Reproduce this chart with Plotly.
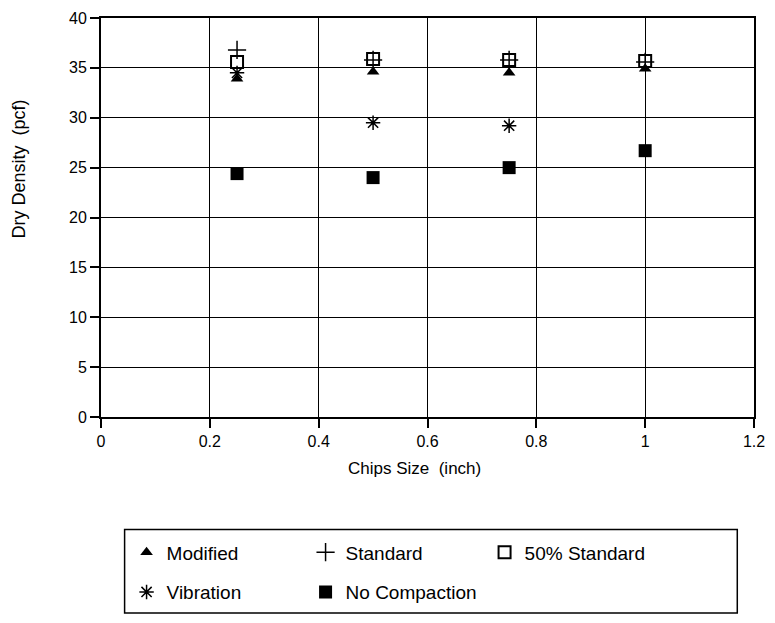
import plotly.graph_objects as go

chip_size = [0.25, 0.5, 0.75, 1.0]
modified = [33.9, 34.6, 34.5, 34.9]
standard = [36.8, 35.8, 35.8, 35.6]
std50 = [35.6, 35.9, 35.8, 35.7]
vib_x = [0.25, 0.5, 0.75]
vibration = [34.5, 29.5, 29.2]
no_compaction = [24.4, 24.0, 25.0, 26.7]

x_ticks = [0, 0.2, 0.4, 0.6, 0.8, 1.0, 1.2]
x_tick_labels = ["0", "0.2", "0.4", "0.6", "0.8", "1", "1.2"]
y_ticks = [0, 5, 10, 15, 20, 25, 30, 35, 40]

FONT = "Liberation Sans, Arial, Helvetica, sans-serif"

fig = go.Figure()
fig.add_trace(go.Scatter(x=chip_size, y=modified, mode="markers", name="Modified",
                         marker=dict(symbol="triangle-up", size=11, color="black"), legend="legend"))
fig.add_trace(go.Scatter(x=chip_size, y=standard, mode="markers", name="Standard",
                         marker=dict(symbol="cross-thin-open", size=13, color="black",
                                     line=dict(width=1.5, color="black")), legend="legend"))
fig.add_trace(go.Scatter(x=chip_size, y=std50, mode="markers", name="50% Standard",
                         marker=dict(symbol="square-open", size=12, color="black",
                                     line=dict(width=2, color="black")), legend="legend"))
fig.add_trace(go.Scatter(x=vib_x, y=vibration, mode="markers", name="Vibration",
                         marker=dict(symbol="asterisk-open", size=12, color="black",
                                     line=dict(width=1.5, color="black")), legend="legend2"))
fig.add_trace(go.Scatter(x=chip_size, y=no_compaction, mode="markers", name="No Compaction",
                         marker=dict(symbol="square", size=13, color="black"), legend="legend2"))

axis_common = dict(showgrid=True, gridcolor="black", gridwidth=1.3, showline=True,
                   linecolor="black", linewidth=2, mirror=True, ticks="outside",
                   ticklen=9, tickwidth=1.5, tickcolor="black", zeroline=False,
                   tickfont=dict(family=FONT, size=16, color="black"))

fig.update_xaxes(range=[0, 1.2], tickvals=x_ticks, ticktext=x_tick_labels, **axis_common)
fig.update_yaxes(range=[0, 40], tickvals=y_ticks, **axis_common)

fig.add_annotation(text="Chips Size  (inch)", xref="paper", yref="paper",
                   x=(420 - 101) / 664, y=(417 - 469) / 401, showarrow=False,
                   xanchor="center", yanchor="middle",
                   font=dict(family=FONT, size=17, color="black"))
fig.add_annotation(text="Dry Density  (pcf)", textangle=-90, xref="paper", yref="paper",
                   x=(18 - 101) / 664, y=(417 - 168) / 401, showarrow=False,
                   xanchor="center", yanchor="middle",
                   font=dict(family=FONT, size=18, color="black"))

fig.add_shape(type="rect", xref="paper", yref="paper",
              x0=(125 - 101) / 664, x1=(748 - 101) / 664,
              y0=(417 - 614) / 401, y1=(417 - 530) / 401,
              line=dict(color="black", width=1.5))

leg_common = dict(orientation="h", entrywidth=134, entrywidthmode="pixels",
                  font=dict(family=FONT, size=19, color="black"), bgcolor="rgba(0,0,0,0)",
                  borderwidth=0, xanchor="left", yanchor="middle", traceorder="normal")
fig.update_layout(
    width=775, height=623,
    margin=dict(l=101, r=10, t=16, b=206),
    paper_bgcolor="white", plot_bgcolor="white",
    showlegend=True,
    legend=dict(x=(127 - 101) / 664, y=(417 - 553) / 401, **leg_common),
    legend2=dict(x=(127 - 101) / 664, y=(417 - 593) / 401, **leg_common),
)

fig.write_html("out.html")
